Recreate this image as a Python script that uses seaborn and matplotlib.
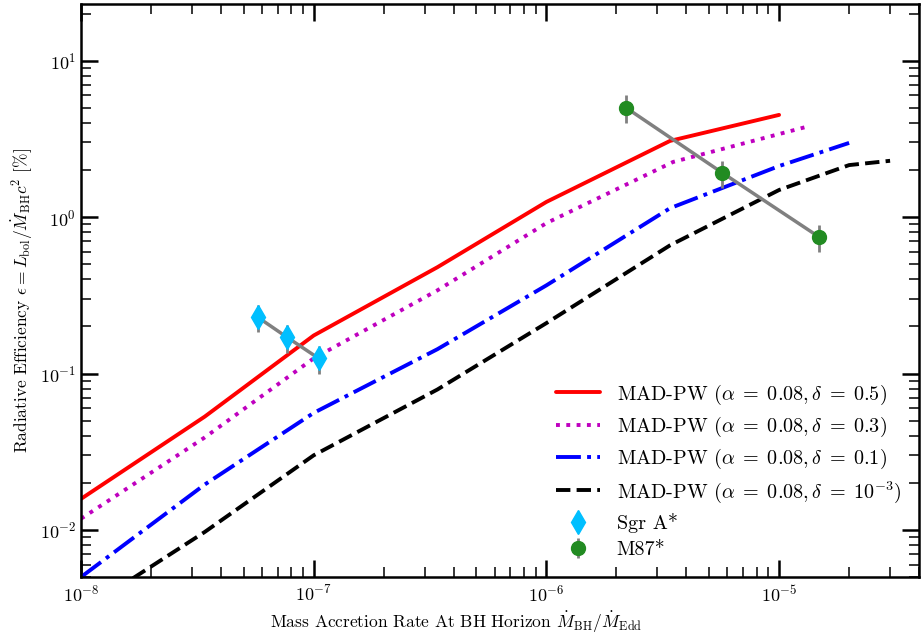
import numpy as np
import pandas as pd
import seaborn as sns
import matplotlib
matplotlib.use('Agg')
import matplotlib.pyplot as plt

# model curves
x_d05 = [1e-8, 3.4e-8, 1e-7, 3.4e-7, 1e-6, 3.4e-6, 1e-5]
y_d05 = [0.0158, 0.053, 0.175, 0.478, 1.25, 3.07, 4.5]

x_d03 = [1e-8, 3.4e-8, 1e-7, 3.4e-7, 1e-6, 3.5e-6, 1.36e-5]
y_d03 = [0.0118, 0.039, 0.125, 0.34, 0.915, 2.25, 3.83]

x_d01 = [1e-8, 3.4e-8, 1e-7, 3.4e-7, 1e-6, 3.4e-6, 1e-5, 2e-5]
y_d01 = [0.005, 0.0195, 0.056, 0.143, 0.366, 1.14, 2.12, 2.98]

x_d1e3 = [1e-8, 3.4e-8, 1e-7, 3.4e-7, 1e-6, 3.4e-6, 1e-5, 2e-5, 3.0e-5]
y_d1e3 = [0.0030, 0.0097, 0.030, 0.079, 0.21, 0.66, 1.49, 2.15, 2.29]

# observations
sgr_x = [5.75e-8, 7.7e-8, 1.05e-7]
sgr_y = [0.229, 0.170, 0.125]
sgr_err = [0.046, 0.034, 0.025]

m87_x = [2.2e-6, 5.7e-6, 1.49e-5]
m87_y = [5.0, 1.92, 0.744]
m87_err = [1.0, 0.38, 0.15]

sns.set_theme(style='ticks')
plt.rcParams['font.family'] = 'serif'
plt.rcParams['font.serif'] = ['cmr10']
plt.rcParams['mathtext.fontset'] = 'cm'
plt.rcParams['axes.formatter.use_mathtext'] = True
plt.rcParams['axes.unicode_minus'] = False
plt.rcParams['axes.edgecolor'] = 'black'
plt.rcParams['xtick.color'] = 'black'
plt.rcParams['ytick.color'] = 'black'
plt.rcParams['text.color'] = 'black'
plt.rcParams['axes.labelcolor'] = 'black'

fig = plt.figure(figsize=(9.21, 6.38), dpi=100)
ax = fig.add_axes([0.088, 0.0956, 0.91, 0.898])
ax.set_xscale('log')
ax.set_yscale('log')

curves = [
    (x_d05, y_d05, '#ff0000', '-', r'MAD-PW $(\alpha\;=\;0.08,\delta\;=\;0.5)$'),
    (x_d03, y_d03, '#bf00bf', ':', r'MAD-PW $(\alpha\;=\;0.08,\delta\;=\;0.3)$'),
    (x_d01, y_d01, '#0000ff', '-.', r'MAD-PW $(\alpha\;=\;0.08,\delta\;=\;0.1)$'),
    (x_d1e3, y_d1e3, '#000000', '--', r'MAD-PW $(\alpha\;=\;0.08,\delta\;=\;10^{-3})$'),
]
for xs, ys, c, ls, lab in curves:
    sns.lineplot(x=xs, y=ys, color=c, linestyle=ls, linewidth=2.8, label=lab, ax=ax)

sns.lineplot(x=sgr_x, y=sgr_y, color='gray', linewidth=2.5, legend=False, ax=ax)
sns.lineplot(x=m87_x, y=m87_y, color='gray', linewidth=2.5, legend=False, ax=ax)

ax.errorbar(sgr_x, sgr_y, yerr=sgr_err, fmt='d', color='deepskyblue', ecolor='gray',
            elinewidth=2, markersize=12, label='Sgr A*', zorder=5)
ax.errorbar(m87_x, m87_y, yerr=m87_err, fmt='o', color='forestgreen', ecolor='gray',
            elinewidth=2, markersize=10, label='M87*', zorder=5)

ax.set_xlim(1e-8, 4e-5)
ax.set_ylim(5e-3, 23)

ax.tick_params(which='both', direction='in', top=True, right=True, labelsize=13)
ax.tick_params(which='major', length=12, width=1.8)
ax.tick_params(which='minor', length=7, width=1.1)
for s in ax.spines.values():
    s.set_linewidth(1.8)
ax.xaxis.set_minor_formatter(matplotlib.ticker.NullFormatter())
ax.yaxis.set_minor_formatter(matplotlib.ticker.NullFormatter())
ax.tick_params(axis='x', pad=5)

ax.set_xlabel(r'Mass Accretion Rate At BH Horizon $\dot{M}_{\rm BH}/\dot{M}_{\rm Edd}$', fontsize=12.5)
ax.set_ylabel(r'Radiative Efficiency $\epsilon = L_{\rm bol}/\dot{M}_{\rm BH}c^2$ [%]', fontsize=12.5)
ax.xaxis.set_label_coords(0.447, -0.058)
ax.yaxis.set_label_coords(-0.055, 0.483)

ax.legend(loc='lower right', frameon=False, fontsize=14.5, handlelength=2.2,
          labelspacing=0.4, bbox_to_anchor=(1.0, 0.0))

fig.savefig('out.png', dpi=100)
